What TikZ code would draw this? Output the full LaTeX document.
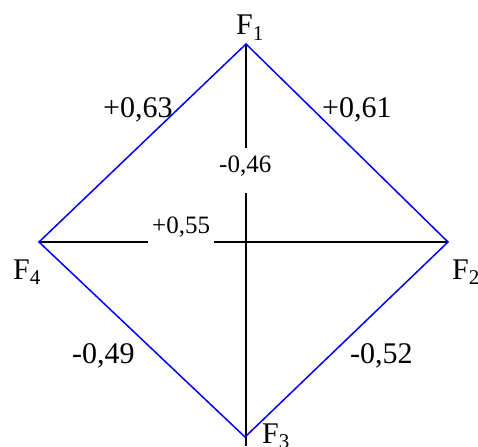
\documentclass[tikz,border=0pt]{standalone}
\usepackage{fontspec}
\setmainfont{Liberation Serif}
\begin{document}
\begin{tikzpicture}[x=1pt,y=-1pt,
  edge/.style={blue,line width=1.5pt},
  axis/.style={black,line width=1.5pt},
  big/.style={inner sep=0pt,anchor=base west,font=\fontsize{30}{34}\selectfont},
  small/.style={inner sep=0pt,anchor=base west,font=\fontsize{25}{28}\selectfont}]
\useasboundingbox (0,0) rectangle (478,446);
\coordinate (t) at (246,44);
\coordinate (r) at (448,242);
\coordinate (b) at (245,437);
\coordinate (l) at (39,242);
\coordinate (vgap1) at (246,148);
\coordinate (vgap2) at (246,193);
\coordinate (vend) at (246,446);
\coordinate (hgap1) at (148,242);
\coordinate (hgap2) at (214,242);
\draw[axis] (t) -- (vgap1);
\draw[axis] (vgap2) -- (vend);
\draw[axis] (l) -- (hgap1);
\draw[axis] (hgap2) -- (r);
\draw[edge] (t) -- (r) -- (b) -- (l) -- cycle;
\node[big] (f1) at (236,35) {F\textsubscript{1}};
\node[big] (f2) at (452,279) {F\textsubscript{2}};
\node[big] (f3) at (262,443) {F\textsubscript{3}};
\node[big] (f4) at (13,279) {F\textsubscript{4}};
\node[big] (l12) at (322,118) {+0,61};
\node[big] (l14) at (103,118) {+0,63};
\node[big] (l43) at (72,363) {-0,49};
\node[big] (l23) at (350,363) {-0,52};
\node[small] (l13) at (219,172) {-0,46};
\node[small] (l24) at (152,233) {+0,55};
\end{tikzpicture}
\end{document}
